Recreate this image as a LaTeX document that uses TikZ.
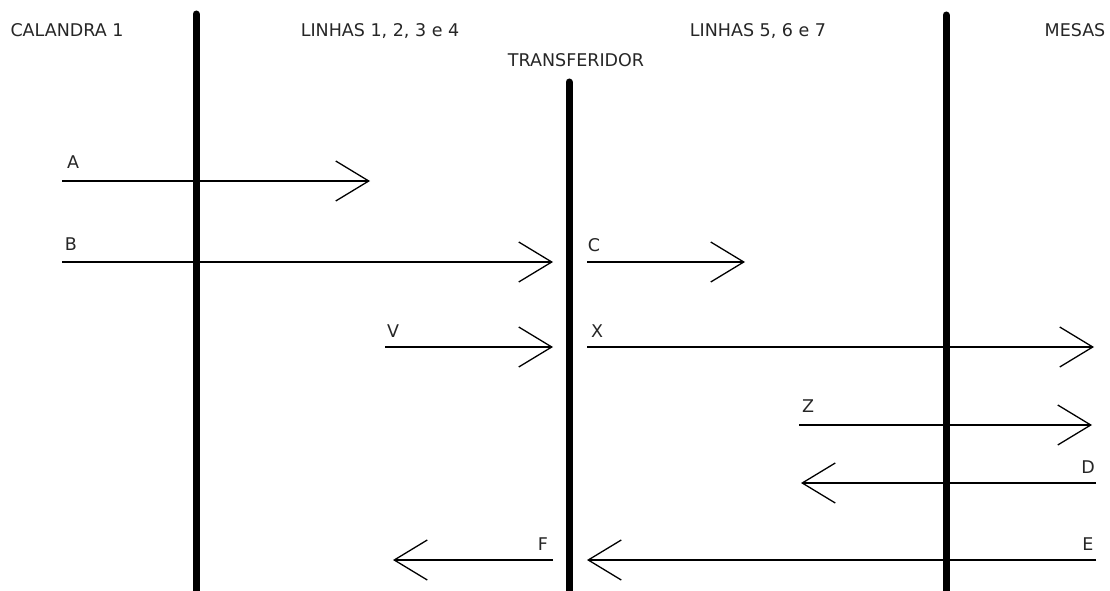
\documentclass[tikz,border=0pt]{standalone}
\usepackage{fontspec}
\setmainfont{DejaVu Sans}
\usetikzlibrary{arrows.meta}
\begin{document}
\begin{tikzpicture}[x=1pt,y=-1pt,
  lbl/.style={anchor=base,inner sep=0pt,text=black!85,font=\fontsize{17.5}{20}\selectfont},
  bar/.style={line width=7pt,line cap=round},
  flow/.style={line width=1.3pt,-{Straight Barb[length=33pt,width=40pt,line width=1.3pt]}}]
\useasboundingbox (0,0) rectangle (1110,591);
% titles
\node[lbl] (t1) at (67,37) {CALANDRA 1};
\node[lbl] (t2) at (380,37) {LINHAS 1, 2, 3 e 4};
\node[lbl] (t3) at (576,67) {TRANSFERIDOR};
\node[lbl] (t4) at (758,37) {LINHAS 5, 6 e 7};
\node[lbl] (t5) at (1075,37) {MESAS};
% bars
\coordinate (b1t) at (196,14); \coordinate (b1b) at (196,600);
\coordinate (b2t) at (569,82); \coordinate (b2b) at (569,600);
\coordinate (b3t) at (946,15); \coordinate (b3b) at (946,600);
\draw[bar] (b1t) -- (b1b);
\draw[bar] (b2t) -- (b2b);
\draw[bar] (b3t) -- (b3b);
% arrow endpoints
\coordinate (a0) at (62,181);  \coordinate (a1) at (370,181);
\coordinate (b0) at (62,262);  \coordinate (b1) at (553,262);
\coordinate (c0) at (587,262); \coordinate (c1) at (745,262);
\coordinate (v0) at (385,347); \coordinate (v1) at (553,347);
\coordinate (x0) at (587,347); \coordinate (x1) at (1094,347);
\coordinate (z0) at (799,425); \coordinate (z1) at (1092,425);
\coordinate (d0) at (1096,483); \coordinate (d1) at (801,483);
\coordinate (f0) at (553,560); \coordinate (f1) at (393,560);
\coordinate (e0) at (1096,560); \coordinate (e1) at (587,560);
\draw[flow] (a0) -- (a1);
\draw[flow] (b0) -- (b1);
\draw[flow] (c0) -- (c1);
\draw[flow] (v0) -- (v1);
\draw[flow] (x0) -- (x1);
\draw[flow] (z0) -- (z1);
\draw[flow] (d0) -- (d1);
\draw[flow] (f0) -- (f1);
\draw[flow] (e0) -- (e1);
% letters
\node[lbl] (lA) at (73,168) {A};
\node[lbl] (lB) at (71,250) {B};
\node[lbl] (lC) at (594,251) {C};
\node[lbl] (lV) at (393,337) {V};
\node[lbl] (lX) at (597,337) {X};
\node[lbl] (lZ) at (808,412) {Z};
\node[lbl] (lD) at (1088,473) {D};
\node[lbl] (lF) at (543,550) {F};
\node[lbl] (lE) at (1088,550) {E};
\end{tikzpicture}
\end{document}
